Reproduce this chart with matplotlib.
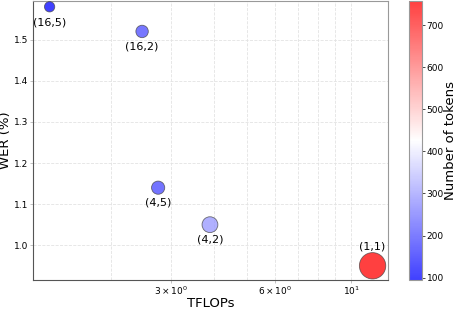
import matplotlib
matplotlib.use("Agg")
import matplotlib.pyplot as plt
import numpy as np

labels = ["(16,5)", "(16,2)", "(4,5)", "(4,2)", "(1,1)"]
tflops = [1.33, 2.47, 2.75, 3.89, 11.55]
wer = [1.58, 1.52, 1.14, 1.05, 0.95]
tokens = [94, 190, 185, 290, 758]
sizes = [55, 80, 90, 130, 360]
label_offsets = [-11, -11, -11, -11, 14]

fig = plt.figure(figsize=(4.58, 3.12), dpi=100)
ax = fig.add_axes([0.072, 0.102, 0.775, 0.896])
cax = fig.add_axes([0.893, 0.102, 0.028, 0.896])

sc = ax.scatter(tflops, wer, c=tokens, s=sizes, cmap="bwr", alpha=0.75,
                edgecolors="#444444", linewidths=0.6, zorder=3,
                vmin=min(tokens), vmax=max(tokens))
for x, y, t, off in zip(tflops, wer, labels, label_offsets):
    ax.annotate(t, (x, y), xytext=(0, off), textcoords="offset points",
                ha="center", va="center", fontsize=8)

ax.set_xscale("log")
ax.set_xlim(1.19, 12.8)
ax.set_ylim(0.915, 1.595)
ax.set_xticks([3, 6, 10])
ax.set_xticklabels([r"$3\times10^{0}$", r"$6\times10^{0}$", r"$10^{1}$"])
ax.set_xticks([2, 4, 5, 7, 8, 9], minor=True)
ax.set_yticks([1.0, 1.1, 1.2, 1.3, 1.4, 1.5])
ax.tick_params(axis="both", labelsize=6.5, length=2, width=0.5,
               color="#aaaaaa", pad=1.5)
ax.tick_params(axis="x", which="minor", length=0)
ax.grid(True, which="both", color="#e3e3e3", linewidth=0.6, linestyle="--")
ax.set_axisbelow(True)
ax.set_xlabel("TFLOPs", fontsize=9.5, labelpad=0)
ax.set_ylabel("WER (%)", fontsize=9.5, labelpad=1)
for side in ["top", "right"]:
    ax.spines[side].set_color("#999999")
for side in ["left", "bottom"]:
    ax.spines[side].set_color("#555555")

cb = fig.colorbar(sc, cax=cax)
cb.set_ticks([100, 200, 300, 400, 500, 600, 700])
cb.ax.tick_params(labelsize=6.5, length=2, width=0.5, pad=1.5)
cb.set_label("Number of tokens", fontsize=9.5, labelpad=0)
cb.outline.set_edgecolor("#999999")

fig.savefig("out.png", dpi=100)
